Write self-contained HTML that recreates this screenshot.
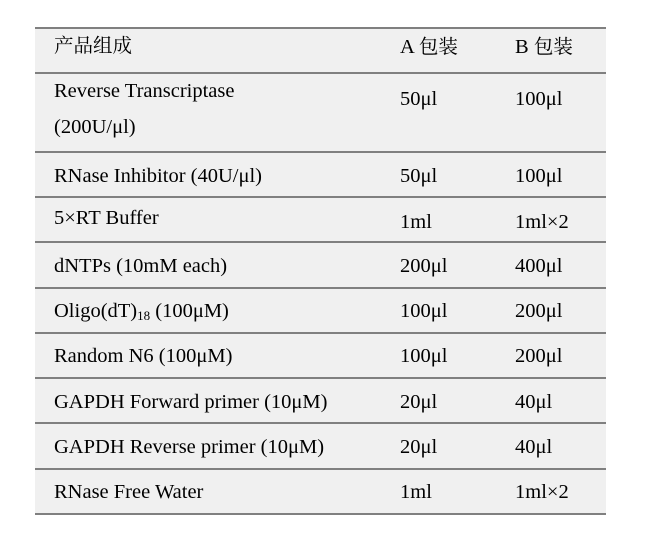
<!DOCTYPE html>
<html><head><meta charset="utf-8"><style>
body{margin:0;width:650px;height:545px;background:#fff;position:relative;font-family:"Liberation Serif","Noto Serif CJK SC",serif;font-size:20.5px;color:#000;overflow:hidden}
.bg{position:absolute;left:35px;top:28px;width:571px;height:487px;background:#f0f0f0}
.l{position:absolute;left:35px;width:571px;height:2px;background:#808080}
.t{position:absolute;line-height:22px;white-space:nowrap}
sub{font-size:13px;vertical-align:-3px;line-height:0}
.c{font-family:'Noto Serif CJK SC','Liberation Serif',serif;font-size:19.5px}
</style></head><body>
<div class="bg"></div>
<div class="l" style="top:27px"></div>
<div class="l" style="top:72px"></div>
<div class="l" style="top:151px"></div>
<div class="l" style="top:196px"></div>
<div class="l" style="top:241px"></div>
<div class="l" style="top:287px"></div>
<div class="l" style="top:332px"></div>
<div class="l" style="top:377px"></div>
<div class="l" style="top:422px"></div>
<div class="l" style="top:468px"></div>
<div class="l" style="top:513px"></div>

<div class="t c" style="left:54px;top:33px">产品组成</div>
<div class="t" style="left:400px;top:34px">A <span class="c">包装</span></div>
<div class="t" style="left:515px;top:34px">B <span class="c">包装</span></div>

<div class="t" style="left:54px;top:80px">Reverse Transcriptase</div>
<div class="t" style="left:54px;top:116px">(200U/μl)</div>
<div class="t" style="left:400px;top:88px">50μl</div>
<div class="t" style="left:515px;top:88px">100μl</div>

<div class="t" style="left:54px;top:165px">RNase Inhibitor (40U/μl)</div>
<div class="t" style="left:400px;top:165px">50μl</div>
<div class="t" style="left:515px;top:165px">100μl</div>

<div class="t" style="left:54px;top:207px">5×RT Buffer</div>
<div class="t" style="left:400px;top:211px">1ml</div>
<div class="t" style="left:515px;top:211px">1ml×2</div>

<div class="t" style="left:54px;top:255px">dNTPs (10mM each)</div>
<div class="t" style="left:400px;top:255px">200μl</div>
<div class="t" style="left:515px;top:255px">400μl</div>

<div class="t" style="left:54px;top:300px">Oligo(dT)<sub>18</sub> (100μM)</div>
<div class="t" style="left:400px;top:300px">100μl</div>
<div class="t" style="left:515px;top:300px">200μl</div>

<div class="t" style="left:54px;top:345px">Random N6 (100μM)</div>
<div class="t" style="left:400px;top:345px">100μl</div>
<div class="t" style="left:515px;top:345px">200μl</div>

<div class="t" style="left:54px;top:391px">GAPDH Forward primer (10μM)</div>
<div class="t" style="left:400px;top:391px">20μl</div>
<div class="t" style="left:515px;top:391px">40μl</div>

<div class="t" style="left:54px;top:436px">GAPDH Reverse primer (10μM)</div>
<div class="t" style="left:400px;top:436px">20μl</div>
<div class="t" style="left:515px;top:436px">40μl</div>

<div class="t" style="left:54px;top:481px">RNase Free Water</div>
<div class="t" style="left:400px;top:481px">1ml</div>
<div class="t" style="left:515px;top:481px">1ml×2</div>
</body></html>
